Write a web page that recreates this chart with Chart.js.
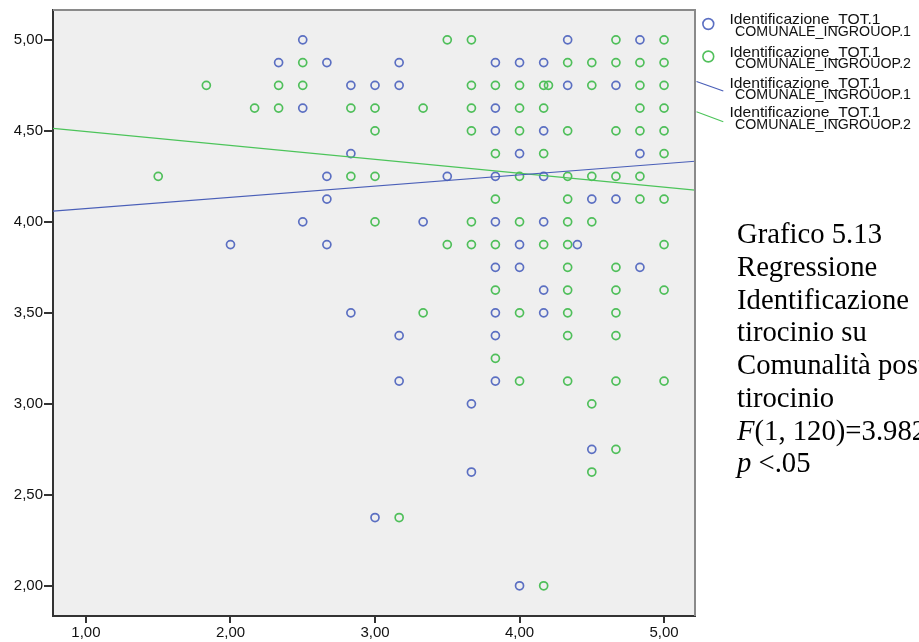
<!DOCTYPE html>
<html>
<head>
<meta charset="utf-8">
<script src="https://cdn.jsdelivr.net/npm/chart.js@4/dist/chart.umd.min.js"></script>
<style>
  html, body { margin:0; padding:0; background:#fff; overflow:hidden; width:919px; height:642px; }
  #wrap { position:relative; width:919px; height:642px; overflow:hidden; }
  #c { position:absolute; left:0; top:0; }
  #ov { position:absolute; left:0; top:0; pointer-events:none; }
</style>
</head>
<body>
<div id="wrap">
<canvas id="c" width="919" height="642"></canvas>
<svg id="ov" width="919" height="642" xmlns="http://www.w3.org/2000/svg">
  <g font-family="Liberation Sans, Arial, sans-serif" font-size="15" fill="#111">
    <circle cx="708.3" cy="24" r="5.4" fill="none" stroke="#5b6fc2" stroke-width="1.6"/>
    <text x="729.5" y="24" textLength="151" lengthAdjust="spacingAndGlyphs">Identificazione_TOT.1</text>
    <text x="735" y="35.8" textLength="176" lengthAdjust="spacingAndGlyphs">COMUNALE_INGROUOP.1</text>
    <circle cx="708.3" cy="56.5" r="5.4" fill="none" stroke="#52c05c" stroke-width="1.6"/>
    <text x="729.5" y="56.5" textLength="151" lengthAdjust="spacingAndGlyphs">Identificazione_TOT.1</text>
    <text x="735" y="68.3" textLength="176" lengthAdjust="spacingAndGlyphs">COMUNALE_INGROUOP.2</text>
    <line x1="696.5" y1="81.5" x2="723.3" y2="91" stroke="#4a5fb8" stroke-width="1.2"/>
    <text x="729.5" y="87.7" textLength="151" lengthAdjust="spacingAndGlyphs">Identificazione_TOT.1</text>
    <text x="735" y="99.3" textLength="176" lengthAdjust="spacingAndGlyphs">COMUNALE_INGROUOP.1</text>
    <line x1="696.5" y1="111.7" x2="723.3" y2="121.7" stroke="#4cc45a" stroke-width="1.2"/>
    <text x="729.5" y="117.2" textLength="151" lengthAdjust="spacingAndGlyphs">Identificazione_TOT.1</text>
    <text x="735" y="129" textLength="176" lengthAdjust="spacingAndGlyphs">COMUNALE_INGROUOP.2</text>
  </g>
  <g font-family="Liberation Serif, Times New Roman, serif" font-size="28.7" fill="#000">
    <text x="737" y="243.3">Grafico 5.13</text>
    <text x="737" y="276">Regressione</text>
    <text x="737" y="308.7">Identificazione</text>
    <text x="737" y="341.4">tirocinio su</text>
    <text x="737" y="374.1">Comunalità post</text>
    <text x="737" y="406.8">tirocinio</text>
    <text x="737" y="439.5"><tspan font-style="italic">F</tspan>(1, 120)=3.982</text>
    <text x="737" y="472.2"><tspan font-style="italic">p</tspan> &lt;.05</text>
  </g>
</svg>
</div>
<script>
// ---- data ----
const xTicks = [1, 2, 3, 4, 5];
const yTicks = [2, 2.5, 3, 3.5, 4, 4.5, 5];

// Series 1 (blue): COMUNALE_INGROUOP.1
const blueX = [2.5, 2.333, 2.667, 2.833, 2.5, 2.833, 2.667, 2.667, 2.5, 2.0, 2.667, 2.833,
  4.333, 4.833,
  3.167, 3.833, 4.0, 4.167,
  3.0, 3.167, 4.333, 4.667,
  3.833,
  3.833, 4.167,
  4.0, 4.833,
  3.5, 3.833, 4.167,
  4.5, 4.667,
  3.333, 3.833, 4.167,
  4.0, 4.4,
  3.833, 4.0, 4.833,
  4.167,
  3.833, 4.167,
  3.167, 3.833,
  3.167, 3.833,
  3.667,
  4.5, 3.667, 3.0, 4.0];
const blueY = [5.0, 4.875, 4.875, 4.75, 4.625, 4.375, 4.25, 4.125, 4.0, 3.875, 3.875, 3.5,
  5.0, 5.0,
  4.875, 4.875, 4.875, 4.875,
  4.75, 4.75, 4.75, 4.75,
  4.625,
  4.5, 4.5,
  4.375, 4.375,
  4.25, 4.25, 4.25,
  4.125, 4.125,
  4.0, 4.0, 4.0,
  3.875, 3.875,
  3.75, 3.75, 3.75,
  3.625,
  3.5, 3.5,
  3.375, 3.375,
  3.125, 3.125,
  3.0,
  2.75, 2.625, 2.375, 2.0];

// Series 2 (green): COMUNALE_INGROUOP.2
const greenX = [1.833, 2.333, 2.5, 2.5, 2.167, 2.333, 2.833, 1.5, 2.833,
  3.5, 3.667, 4.667, 5.0,
  4.333, 4.5, 4.667, 4.833, 5.0,
  3.667, 3.833, 4.0, 4.167, 4.2, 4.5, 4.833, 5.0,
  3.0, 3.333, 3.667, 4.0, 4.167, 4.833, 5.0,
  3.0, 3.667, 4.0, 4.333, 4.667, 4.833, 5.0,
  3.833, 4.167, 5.0,
  3.0, 4.0, 4.333, 4.5, 4.667, 4.833,
  3.833, 4.333, 4.833, 5.0,
  3.0, 3.667, 4.0, 4.333, 4.5,
  3.5, 3.667, 3.833, 4.167, 4.333, 5.0,
  4.333, 4.667,
  3.833, 4.333, 4.667, 5.0,
  3.333, 4.0, 4.333, 4.667,
  4.333, 4.667,
  3.833,
  4.0, 4.333, 4.667, 5.0,
  4.5, 4.667, 4.5, 3.167, 4.167];
const greenY = [4.75, 4.75, 4.75, 4.875, 4.625, 4.625, 4.625, 4.25, 4.25,
  5.0, 5.0, 5.0, 5.0,
  4.875, 4.875, 4.875, 4.875, 4.875,
  4.75, 4.75, 4.75, 4.75, 4.75, 4.75, 4.75, 4.75,
  4.625, 4.625, 4.625, 4.625, 4.625, 4.625, 4.625,
  4.5, 4.5, 4.5, 4.5, 4.5, 4.5, 4.5,
  4.375, 4.375, 4.375,
  4.25, 4.25, 4.25, 4.25, 4.25, 4.25,
  4.125, 4.125, 4.125, 4.125,
  4.0, 4.0, 4.0, 4.0, 4.0,
  3.875, 3.875, 3.875, 3.875, 3.875, 3.875,
  3.75, 3.75,
  3.625, 3.625, 3.625, 3.625,
  3.5, 3.5, 3.5, 3.5,
  3.375, 3.375,
  3.25,
  3.125, 3.125, 3.125, 3.125,
  3.0, 2.75, 2.625, 2.375, 2.0];

// Regression lines (endpoints at the axis limits)
const axisX = [0.772, 5.214];
const blueLineY = [4.059, 4.333];
const greenLineY = [4.514, 4.174];

// ---- chart ----
const BLUE = '#5b6fc2', GREEN = '#4fbf5a';
const fmt = v => Number(v).toFixed(2).replace('.', ',');
const pts = (xs, ys) => xs.map((x, i) => ({ x: x, y: ys[i] }));

const plotBg = {
  id: 'plotBg',
  beforeDraw(chart) {
    const { ctx, chartArea: a } = chart;
    ctx.save();
    ctx.fillStyle = '#efefef';
    ctx.fillRect(a.left, a.top, a.right - a.left, a.bottom - a.top);
    ctx.restore();
  },
  afterDraw(chart) {
    const { ctx, chartArea: a } = chart;
    ctx.save();
    ctx.strokeStyle = '#8a8a8a';
    ctx.lineWidth = 2;
    ctx.beginPath();
    ctx.moveTo(a.left, a.top);
    ctx.lineTo(a.right, a.top);
    ctx.lineTo(a.right, a.bottom);
    ctx.stroke();
    ctx.restore();
  }
};

const tickFont = { family: 'Liberation Sans', size: 15 };

new Chart(document.getElementById('c'), {
  type: 'scatter',
  data: {
    datasets: [
      { label: 'Identificazione_TOT.1 COMUNALE_INGROUOP.1', data: pts(blueX, blueY),
        borderColor: BLUE, backgroundColor: 'rgba(0,0,0,0)', pointRadius: 4, pointBorderWidth: 1.7, order: 2 },
      { label: 'Identificazione_TOT.1 COMUNALE_INGROUOP.2', data: pts(greenX, greenY),
        borderColor: GREEN, backgroundColor: 'rgba(0,0,0,0)', pointRadius: 4, pointBorderWidth: 1.7, order: 1 },
      { type: 'line', label: 'fit 1', data: pts(axisX, blueLineY), borderColor: '#4a5fb8',
        borderWidth: 1.2, pointRadius: 0, fill: false, showLine: true, order: 0 },
      { type: 'line', label: 'fit 2', data: pts(axisX, greenLineY), borderColor: '#4cc45a',
        borderWidth: 1.2, pointRadius: 0, fill: false, showLine: true, order: 0 }
    ]
  },
  options: {
    responsive: false,
    animation: false,
    devicePixelRatio: 1,
    layout: { padding: { top: 8, right: 224, left: 0, bottom: 0 } },
    plugins: { legend: { display: false }, tooltip: { enabled: false } },
    scales: {
      x: {
        type: 'linear', min: axisX[0], max: axisX[1],
        afterBuildTicks: s => { s.ticks = xTicks.map(v => ({ value: v })); },
        afterFit: s => { s.height = 26; },
        ticks: { callback: v => fmt(v), color: '#111', font: tickFont, padding: 1, maxRotation: 0, autoSkip: false },
        grid: { drawOnChartArea: false, drawTicks: true, tickLength: 7, color: '#333', lineWidth: 2 },
        border: { display: true, color: '#333', width: 2 }
      },
      y: {
        type: 'linear', min: 1.834, max: 5.164,
        afterBuildTicks: s => { s.ticks = yTicks.map(v => ({ value: v })); },
        afterFit: s => { s.width = 53; },
        ticks: { callback: v => fmt(v), color: '#111', font: tickFont, padding: 1, autoSkip: false },
        grid: { drawOnChartArea: false, drawTicks: true, tickLength: 9, color: '#333', lineWidth: 2 },
        border: { display: true, color: '#333', width: 2 }
      }
    }
  },
  plugins: [plotBg]
});
</script>
</body>
</html>
